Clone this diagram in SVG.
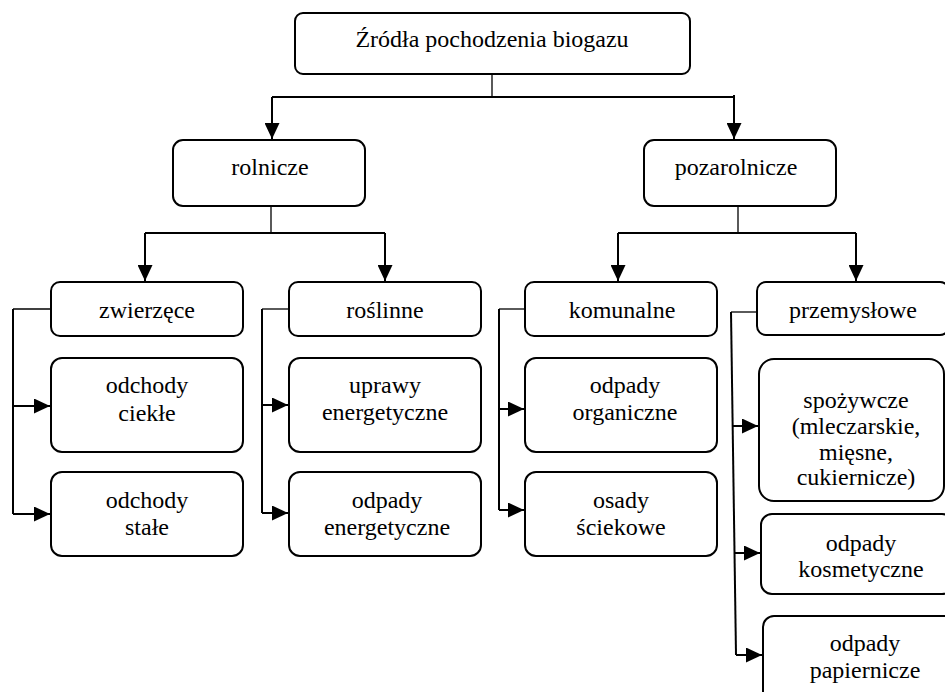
<svg xmlns="http://www.w3.org/2000/svg" width="945" height="692" viewBox="0 0 945 692">
<defs>
<marker id="ah" viewBox="0 0 16 15" refX="16" refY="7.5" markerWidth="16" markerHeight="15" markerUnits="userSpaceOnUse" orient="auto">
<path d="M0,0 L16,7.5 L0,15 z" fill="#000"/>
</marker>
</defs>
<style>
.box{fill:#fff;stroke:#000;stroke-width:2}
.t{font-size:24px;fill:#000;text-anchor:middle}
.c{fill:none;stroke:#000;stroke-width:2}
.s{fill:none;stroke:#000;stroke-width:1.3}
.a{fill:none;stroke:#000;stroke-width:2;marker-end:url(#ah)}
</style>
<rect width="945" height="692" fill="#fff"/>
<g id="connectors">
<path class="s" d="M492,74 V97"/>
<path class="a" d="M272,97 V139"/>
<path class="c" d="M272,97 H734 V95"/>
<path class="a" d="M734,97 V139"/>
<path class="s" d="M271,206 V233"/>
<path class="a" d="M145,233 V281"/>
<path class="c" d="M145,233 H385"/>
<path class="a" d="M385,233 V281"/>
<path class="s" d="M738,206 V233"/>
<path class="a" d="M618,233 V281"/>
<path class="c" d="M618,233 H856"/>
<path class="a" d="M856,233 V281"/>
<path class="s" d="M51,309 H13"/>
<path class="c" d="M13,309 V514"/>
<path class="a" d="M13,406 H50"/>
<path class="a" d="M13,514 H50"/>
<path class="s" d="M289,309 H262"/>
<path class="c" d="M262,309 V513"/>
<path class="a" d="M262,405 H288"/>
<path class="a" d="M262,513 H288"/>
<path class="s" d="M525,309 H499"/>
<path class="c" d="M499,309 V510"/>
<path class="a" d="M499,409 H524"/>
<path class="a" d="M499,510 H524"/>
<path class="s" d="M757,312 H731"/>
<path class="c" d="M731,312 L736,655"/>
<path class="a" d="M732.7,426 H758"/>
<path class="a" d="M734.5,553 H760"/>
<path class="a" d="M736,655 H762"/>
</g>
<g font-family="'Liberation Serif', Tinos, 'Times New Roman', 'DejaVu Serif', serif">
<g id="root"><rect class="box" x="295" y="13" width="395" height="61" rx="8"/><text class="t" x="492" y="47">Źródła pochodzenia biogazu</text></g>
<g id="rolnicze"><rect class="box" x="173" y="140" width="192" height="66" rx="10"/><text class="t" x="270" y="175">rolnicze</text></g>
<g id="pozarolnicze"><rect class="box" x="644" y="140" width="192" height="66" rx="10"/><text class="t" x="736" y="175">pozarolnicze</text></g>
<g id="zwierzece"><rect class="box" x="51" y="282" width="192" height="54" rx="9"/><text class="t" x="147" y="318">zwierzęce</text></g>
<g id="roslinne"><rect class="box" x="289" y="282" width="192" height="54" rx="9"/><text class="t" x="385" y="318">roślinne</text></g>
<g id="komunalne"><rect class="box" x="525" y="282" width="192" height="54" rx="9"/><text class="t" x="622" y="318">komunalne</text></g>
<g id="przemyslowe"><rect class="box" x="757" y="282" width="192" height="53" rx="9"/><text class="t" x="853" y="318">przemysłowe</text></g>
<g id="odchody-ciekle"><rect class="box" x="51" y="358" width="192" height="94" rx="11"/><text class="t" x="147" y="393">odchody</text><text class="t" x="147" y="421">ciekłe</text></g>
<g id="odchody-stale"><rect class="box" x="51" y="472" width="192" height="84" rx="11"/><text class="t" x="147" y="508">odchody</text><text class="t" x="147" y="535">stałe</text></g>
<g id="uprawy"><rect class="box" x="289" y="358" width="192" height="94" rx="11"/><text class="t" x="385" y="393">uprawy</text><text class="t" x="385" y="420">energetyczne</text></g>
<g id="odpady-energetyczne"><rect class="box" x="289" y="472" width="192" height="84" rx="11"/><text class="t" x="387" y="508">odpady</text><text class="t" x="387" y="535">energetyczne</text></g>
<g id="odpady-organiczne"><rect class="box" x="525" y="358" width="192" height="94" rx="11"/><text class="t" x="625" y="393">odpady</text><text class="t" x="625" y="420">organiczne</text></g>
<g id="osady"><rect class="box" x="525" y="472" width="192" height="84" rx="11"/><text class="t" x="621" y="508">osady</text><text class="t" x="621" y="535">ściekowe</text></g>
<g id="spozywcze"><rect class="box" x="759" y="359" width="185" height="142" rx="15"/><text class="t" x="856" y="408">spożywcze</text><text class="t" x="856" y="434">(mleczarskie,</text><text class="t" x="856" y="460">mięsne,</text><text class="t" x="856" y="485">cukiernicze)</text></g>
<g id="kosmetyczne"><rect class="box" x="761" y="514" width="192" height="80" rx="11"/><text class="t" x="861" y="551">odpady</text><text class="t" x="861" y="577">kosmetyczne</text></g>
<g id="papiernicze"><rect class="box" x="763" y="616" width="192" height="90" rx="11"/><text class="t" x="865" y="651">odpady</text><text class="t" x="865" y="678">papiernicze</text></g>
</g>
</svg>
